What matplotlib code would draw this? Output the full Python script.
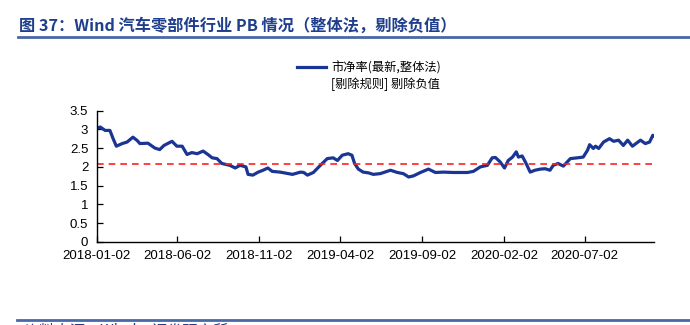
import numpy as np
import pandas as pd
import matplotlib
matplotlib.use("Agg")
import matplotlib.pyplot as plt
from matplotlib.lines import Line2D

plt.rcParams['font.family'] = ['Liberation Sans', 'Noto Sans CJK SC', 'DejaVu Sans']

# PB (整体法, 剔除负值)
dates = [
    "2018-01-02", "2018-01-09", "2018-01-18", "2018-01-27", "2018-02-02",
    "2018-02-08", "2018-02-19", "2018-02-28", "2018-03-11", "2018-03-19",
    "2018-03-24", "2018-04-08", "2018-04-21", "2018-04-30", "2018-05-08",
    "2018-05-23", "2018-06-01", "2018-06-11", "2018-06-20", "2018-06-29",
    "2018-07-09", "2018-07-20", "2018-07-29", "2018-08-06", "2018-08-15",
    "2018-08-24", "2018-09-08", "2018-09-18", "2018-09-27", "2018-10-08",
    "2018-10-12", "2018-10-21", "2018-10-31", "2018-11-09", "2018-11-18",
    "2018-11-26", "2018-12-11", "2019-01-03", "2019-01-18", "2019-01-24",
    "2019-01-31", "2019-02-11", "2019-02-24", "2019-03-09", "2019-03-20",
    "2019-03-28", "2019-04-06", "2019-04-17", "2019-04-24", "2019-04-29",
    "2019-05-06", "2019-05-15", "2019-05-25", "2019-06-03", "2019-06-16",
    "2019-07-05", "2019-07-18", "2019-07-29", "2019-08-08", "2019-08-17",
    "2019-08-30", "2019-09-14", "2019-09-27", "2019-10-12", "2019-10-31",
    "2019-11-26", "2019-12-07", "2019-12-20", "2020-01-02", "2020-01-11",
    "2020-01-17", "2020-01-26", "2020-02-03", "2020-02-10", "2020-02-18",
    "2020-02-25", "2020-02-29", "2020-03-07", "2020-03-13", "2020-03-22",
    "2020-03-31", "2020-04-10", "2020-04-19", "2020-04-28", "2020-05-04",
    "2020-05-13", "2020-05-23", "2020-06-05", "2020-06-18", "2020-06-29",
    "2020-07-07", "2020-07-11", "2020-07-18", "2020-07-22", "2020-07-28",
    "2020-08-06", "2020-08-17", "2020-08-25", "2020-09-03", "2020-09-12",
    "2020-09-20", "2020-09-29", "2020-10-14", "2020-10-23", "2020-10-31",
    "2020-11-06", "2020-11-09",
]
pb = [
    3.02, 3.06, 2.97, 2.97, 2.75,
    2.55, 2.62, 2.66, 2.79, 2.70,
    2.62, 2.63, 2.50, 2.46, 2.57,
    2.68, 2.55, 2.55, 2.33, 2.38,
    2.35, 2.42, 2.33, 2.24, 2.22,
    2.09, 2.04, 1.97, 2.04, 2.00,
    1.80, 1.78, 1.86, 1.91, 1.97,
    1.88, 1.86, 1.80, 1.86, 1.85,
    1.78, 1.85, 2.04, 2.22, 2.24,
    2.17, 2.31, 2.35, 2.31, 2.09,
    1.94, 1.86, 1.84, 1.80, 1.82,
    1.91, 1.85, 1.82, 1.73, 1.76,
    1.85, 1.94, 1.85, 1.86, 1.85,
    1.85, 1.88, 2.00, 2.04, 2.24,
    2.25, 2.13, 1.97, 2.17, 2.26,
    2.40, 2.26, 2.29, 2.13, 1.86,
    1.91, 1.94, 1.95, 1.91, 2.04,
    2.09, 2.02, 2.22, 2.24, 2.26,
    2.44, 2.59, 2.49, 2.55, 2.49,
    2.66, 2.75, 2.68, 2.71, 2.57,
    2.71, 2.55, 2.71, 2.62, 2.66,
    2.84, 2.82,
]
pb_mean = 2.07

tick_dates = ["2018-01-02", "2018-06-02", "2018-11-02", "2019-04-02",
              "2019-09-02", "2020-02-02", "2020-07-02"]
y_ticks = [0, 0.5, 1, 1.5, 2, 2.5, 3, 3.5]
y_labels = ["0", "0.5", "1", "1.5", "2", "2.5", "3", "3.5"]

title = "图 37：Wind 汽车零部件行业 PB 情况（整体法，剔除负值）"
legend_1 = "市净率(最新,整体法)"
legend_2 = "[剔除规则] 剔除负值"
source = "资料来源：Wind，证券研究所"

BLUE = "#1a3593"
HEAD = "#1f3e8c"
RULE = "#4a68a6"

x = pd.to_datetime(dates)
xt = pd.to_datetime(tick_dates)

fig = plt.figure(figsize=(6.9, 3.25), dpi=100)
ax = fig.add_axes([0.1399, 0.2554, 0.8085, 0.4046])

line, = ax.plot(x, pb, color=BLUE, lw=2.3, solid_joinstyle="round")
ax.plot([x[0], x[-1]], [pb_mean, pb_mean], color="#ff2020", lw=1.2,
        dashes=(4, 3))

ax.set_xlim(x[0], x[-1])
ax.set_ylim(0, 3.5)
ax.set_xticks(xt)
ax.set_xticklabels(tick_dates)
ax.set_yticks(y_ticks)
ax.set_yticklabels(y_labels)
ax.tick_params(direction="in", length=4, width=0.9, labelsize=9.5,
               colors="black", pad=6)
for side in ("top", "right"):
    ax.spines[side].set_visible(False)
for side in ("left", "bottom"):
    ax.spines[side].set_linewidth(1.0)

blank = Line2D([], [], color="none")
leg = fig.legend([line, blank], [legend_1, legend_2], loc="upper left",
                 bbox_to_anchor=(0.414, 0.846), frameon=False,
                 handlelength=2.4, handletextpad=0.45, labelspacing=0.28,
                 prop={"family": ["Noto Sans CJK SC"], "size": 8.8})

fig.text(0.027, 0.923, title, fontsize=11.7, fontweight="bold", color=HEAD,
         va="center", ha="left",
         family=["Noto Sans CJK SC", "DejaVu Sans"])
fig.add_artist(Line2D([0.026, 1.0], [0.885, 0.885], color=RULE, lw=2.0,
                      transform=fig.transFigure))
fig.add_artist(Line2D([0.024, 1.0], [0.015, 0.015], color=RULE, lw=2.0,
                      transform=fig.transFigure))
fig.text(0.035, 0.006, source, fontsize=11, color=HEAD, va="top", ha="left",
         family=["Noto Sans CJK SC", "DejaVu Sans"])

fig.savefig("out.png", dpi=100)
